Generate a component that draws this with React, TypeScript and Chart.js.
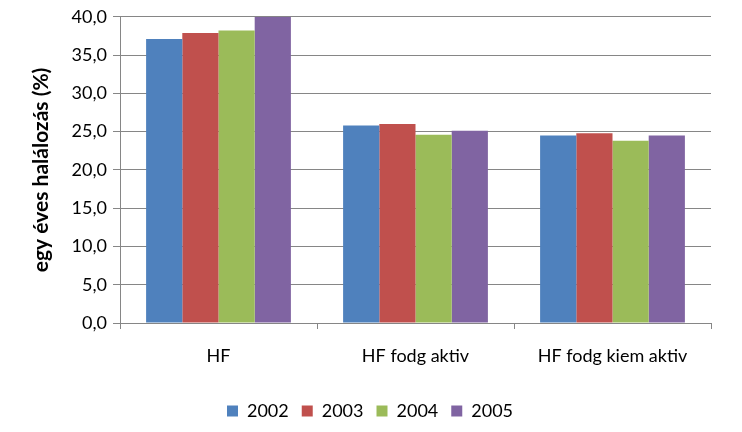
import React, { useEffect, useRef } from "react";
import { Chart, registerables } from "chart.js";
Chart.register(...registerables);

const categories = ["HF", "HF fodg aktiv", "HF fodg kiem aktiv"];
const years = ["2002", "2003", "2004", "2005"];
const v2002 = [37.1, 25.8, 24.5];
const v2003 = [37.9, 26.0, 24.8];
const v2004 = [38.2, 24.6, 23.8];
const v2005 = [40.0, 25.1, 24.5];
const seriesColors = ["#4F81BD", "#C0504D", "#9BBB59", "#8064A2"];
const yTitle = "egy éves halálozás (%)";
const yMin = 0;
const yMax = 40;
const yStep = 5;

const FONT = "Lato, 'Liberation Sans', sans-serif";

export default function App() {
  const ref = useRef<HTMLCanvasElement | null>(null);
  useEffect(() => {
    document.body.style.margin = "0";
    const canvas = ref.current;
    if (!canvas) return;
    const seriesValues = [v2002, v2003, v2004, v2005];
    const chart = new Chart(canvas, {
      type: "bar",
      data: {
        labels: categories,
        datasets: years.map((y, i) => ({
          label: y,
          data: seriesValues[i],
          backgroundColor: seriesColors[i],
          borderWidth: 0,
          barPercentage: 1,
          categoryPercentage: 0.735,
        })),
      },
      options: {
        animation: false,
        responsive: false,
        maintainAspectRatio: false,
        devicePixelRatio: 1,
        layout: { padding: { left: 29, right: 31, top: 11, bottom: 2 } },
        plugins: {
          tooltip: { enabled: false },
          legend: {
            position: "bottom",
            labels: {
              boxWidth: 11,
              boxHeight: 11,
              padding: 13,
              color: "#000",
              font: { family: FONT, size: 18 },
            },
          },
        },
        scales: {
          x: {
            grid: {
              offset: true,
              drawOnChartArea: false,
              color: "#868686",
              tickLength: 6,
            },
            border: { color: "#868686" },
            ticks: {
              color: "#000",
              padding: 16,
              font: { family: FONT, size: 18 },
              maxRotation: 0,
            },
            afterFit: (s: any) => {
              s.height = 66;
            },
          },
          y: {
            min: yMin,
            max: yMax,
            ticks: {
              stepSize: yStep,
              color: "#000",
              padding: 6,
              font: { family: FONT, size: 18 },
              callback: (v: any) => Number(v).toFixed(1).replace(".", ","),
            },
            grid: { color: "#868686", tickLength: 7 },
            border: { color: "#868686" },
            title: {
              display: true,
              text: yTitle,
              color: "#000",
              font: { family: FONT, size: 21, weight: "bold" },
              padding: 0,
            },
            afterFit: (s: any) => {
              s.width = 91;
            },
          },
        },
      },
    });
    return () => chart.destroy();
  }, []);
  return (
    <div style={{ width: 742, height: 432 }}>
      <canvas ref={ref} width={742} height={432} style={{ display: "block" }} />
    </div>
  );
}
